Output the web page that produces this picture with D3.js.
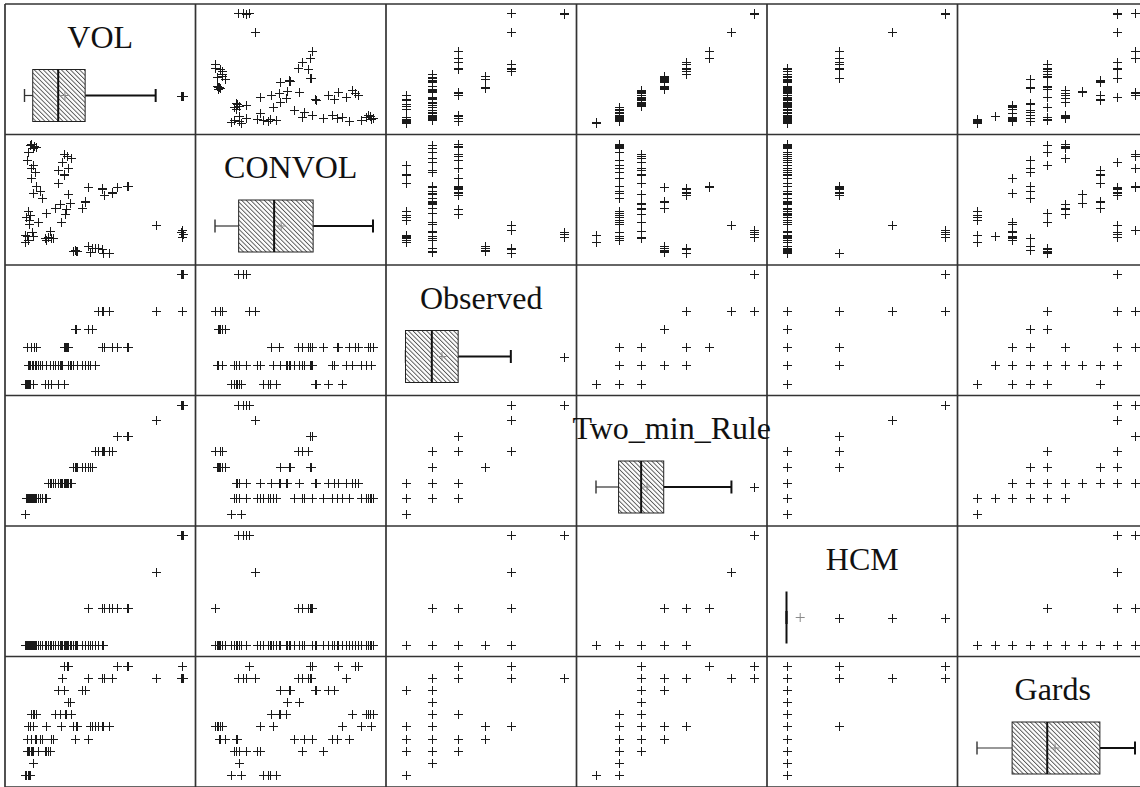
<!DOCTYPE html>
<html>
<head>
<meta charset="utf-8">
<script src="https://cdn.jsdelivr.net/npm/d3@7"></script>
<style>
  html, body { margin: 0; padding: 0; background: #fff; }
  svg { display: block; }
</style>
</head>
<body>
<svg id="chart" width="1140" height="787"></svg>
<script>
// Variable names, in matrix order
const names = ["VOL", "CONVOL", "Observed", "Two_min_Rule", "HCM", "Gards"];

// One value per observation for each variable
const VOL = [830, 833, 828, 830, 700, 367, 434, 442, 484, 509, 559, 80, 95, 105, 75, 65, 90, 64, 92, 84,
  104, 83, 106, 91, 125, 137, 247, 259, 280, 234, 267, 217, 246, 216, 266, 350, 337, 275, 258, 250,
  233, 200, 225, 159, 117, 67, 59, 76, 70, 74, 85, 50, 63, 93, 54, 150, 167, 180, 175, 158,
  192, 300, 301, 303, 364, 384, 400, 375, 415, 433, 441, 470, 309, 290, 50, 59, 63, 67, 150, 70,
  167, 54, 76, 217, 234, 247, 59, 167, 352, 486, 436, 365, 561, 348, 248, 214];
const CONVOL = [200, 225, 240, 255, 285, 565, 555, 505, 525, 564, 575, 880, 865, 855, 870, 820, 845, 758, 725, 700,
  675, 630, 574, 524, 535, 485, 805, 790, 775, 745, 702, 685, 655, 590, 510, 458, 410, 445, 405, 365,
  310, 411, 440, 375, 311, 390, 350, 360, 325, 295, 241, 218, 205, 206, 165, 193, 204, 194, 242, 180,
  193, 110, 105, 100, 133, 120, 121, 95, 119, 111, 85, 86, 96, 101, 218, 350, 205, 180, 193, 325,
  204, 165, 360, 685, 745, 805, 350, 204, 455, 523, 553, 567, 573, 460, 652, 592];
const Observed = [6, 6, 6, 4, 4, 1, 2, 2, 2, 2, 2, 2, 2, 2, 1, 1, 1, 2, 0, 2,
  1, 2, 1, 1, 1, 1, 2, 2, 1, 1, 2, 1, 0, 0, 1, 1, 1, 1, 2, 2,
  1, 1, 1, 1, 1, 0, 0, 0, 0, 1, 1, 0, 0, 1, 0, 0, 0, 0, 1, 1,
  1, 3, 3, 3, 3, 3, 1, 1, 4, 4, 4, 4, 1, 1, 0, 0, 0, 0, 0, 0,
  0, 0, 0, 1, 1, 2, 0, 0, 1, 2, 2, 1, 2, 1, 0, 0];
const Two_min_Rule = [7, 7, 7, 7, 6, 3, 4, 4, 4, 5, 5, 1, 1, 1, 1, 1, 1, 1, 1, 1,
  1, 1, 1, 1, 1, 1, 2, 2, 2, 2, 2, 2, 2, 2, 2, 3, 3, 2, 2, 2,
  2, 2, 2, 1, 1, 1, 1, 1, 1, 1, 1, 0, 1, 1, 0, 1, 2, 2, 2, 1,
  2, 3, 3, 3, 3, 3, 4, 3, 4, 4, 4, 4, 3, 3, 0, 1, 1, 1, 1, 1,
  2, 0, 1, 2, 2, 2, 1, 2, 3, 4, 4, 3, 5, 3, 2, 2];
const HCM = [3, 3, 3, 3, 2, 1, 1, 1, 1, 1, 1, 0, 0, 0, 0, 0, 0, 0, 0, 0,
  0, 0, 0, 0, 0, 0, 0, 0, 0, 0, 0, 0, 0, 0, 0, 0, 0, 0, 0, 0,
  0, 0, 0, 0, 0, 0, 0, 0, 0, 0, 0, 0, 0, 0, 0, 0, 0, 0, 0, 0,
  0, 0, 0, 0, 0, 0, 0, 0, 0, 0, 0, 1, 0, 0, 0, 0, 0, 0, 0, 0,
  0, 0, 0, 0, 0, 0, 0, 0, 0, 1, 1, 1, 1, 0, 0, 0];
const Gards = [8, 8, 8, 9, 8, 8, 8, 8, 8, 9, 9, 5, 5, 5, 4, 4, 5, 3, 4, 3,
  3, 2, 3, 2, 3, 3, 9, 9, 5, 8, 9, 7, 7, 7, 6, 7, 7, 6, 5, 5,
  4, 5, 5, 4, 2, 0, 0, 0, 0, 2, 2, 0, 2, 1, 0, 2, 2, 3, 2, 2,
  3, 3, 3, 4, 3, 4, 4, 4, 4, 4, 4, 4, 4, 4, 0, 0, 2, 2, 2, 0,
  2, 0, 0, 7, 8, 9, 0, 2, 7, 8, 8, 8, 9, 7, 7, 7];

const columns = [VOL, CONVOL, Observed, Two_min_Rule, HCM, Gards];
const n = names.length;

// Matrix geometry
const x0 = 5, y0 = 4, cellW = 190.5, cellH = 130.5;
const padL = 19.5, padR = 13, padT = 9, padB = 12;

const svg = d3.select("#chart");

// Diagonal hatch fill for the boxes
const defs = svg.append("defs");
const pat = defs.append("pattern")
  .attr("id", "hatch")
  .attr("patternUnits", "userSpaceOnUse")
  .attr("width", 3.2).attr("height", 3.2)
  .attr("patternTransform", "rotate(-45)");
pat.append("rect").attr("width", 3.2).attr("height", 3.2).attr("fill", "#fff");
pat.append("line")
  .attr("x1", 0.5).attr("y1", 0).attr("x2", 0.5).attr("y2", 3.2)
  .attr("stroke", "#3a3a3a").attr("stroke-width", 0.8);

const xScales = columns.map((vals, i) => d3.scaleLinear()
  .domain(d3.extent(vals))
  .range([x0 + i * cellW + padL, x0 + (i + 1) * cellW - padR]));
const yScales = columns.map((vals, i) => d3.scaleLinear()
  .domain(d3.extent(vals))
  .range([y0 + (i + 1) * cellH - padB, y0 + i * cellH + padT]));

function plus(x, y, h) {
  return `M${x - h},${y}H${x + h}M${x},${y - h}V${y + h}`;
}

// Off-diagonal scatter panels
const scatter = svg.append("g").attr("class", "scatter");
for (let r = 0; r < n; r++) {
  for (let c = 0; c < n; c++) {
    if (r === c) continue;
    const xs = xScales[c], ys = yScales[r];
    const xv = columns[c], yv = columns[r];
    scatter.append("g")
      .selectAll("path")
      .data(d3.range(xv.length))
      .join("path")
      .attr("d", i => plus(Math.round(xs(xv[i])) + 0.5, Math.round(ys(yv[i])) + 0.5, 4.5))
      .attr("fill", "none")
      .attr("stroke", "#1a1a1a")
      .attr("stroke-width", 1);
  }
}

// Box plot statistics
function boxStats(vals) {
  const s = vals.slice().sort(d3.ascending);
  const q1 = d3.quantileSorted(s, 0.25);
  const med = d3.quantileSorted(s, 0.5);
  const q3 = d3.quantileSorted(s, 0.75);
  const iqr = q3 - q1;
  const lo = d3.min(s.filter(v => v >= q1 - 1.5 * iqr));
  const hi = d3.max(s.filter(v => v <= q3 + 1.5 * iqr));
  const out = Array.from(new Set(s.filter(v => v < lo || v > hi)));
  return { q1, med, q3, lo, hi, out, mean: d3.mean(s) };
}

// Diagonal panels: variable name plus box plot
const diag = svg.append("g").attr("class", "diag");
for (let i = 0; i < n; i++) {
  const xs = xScales[i];
  const top = y0 + i * cellH;
  const bTop = top + 65.5, bBot = top + 117.5, mid = top + 91.5;
  const st = boxStats(columns[i]);
  const g = diag.append("g");

  // whiskers
  g.append("line").attr("x1", xs(st.lo)).attr("x2", xs(st.q1)).attr("y1", mid).attr("y2", mid)
    .attr("stroke", "#333").attr("stroke-width", 1.2);
  g.append("line").attr("x1", xs(st.q3)).attr("x2", xs(st.hi)).attr("y1", mid).attr("y2", mid)
    .attr("stroke", "#111").attr("stroke-width", 2);
  g.append("line").attr("x1", xs(st.lo)).attr("x2", xs(st.lo)).attr("y1", mid - 6.5).attr("y2", mid + 6.5)
    .attr("stroke", "#333").attr("stroke-width", 1.4);
  g.append("line").attr("x1", xs(st.hi)).attr("x2", xs(st.hi)).attr("y1", mid - 6.5).attr("y2", mid + 6.5)
    .attr("stroke", "#111").attr("stroke-width", 2);

  // box
  g.append("rect")
    .attr("x", xs(st.q1)).attr("y", bTop)
    .attr("width", Math.max(0, xs(st.q3) - xs(st.q1))).attr("height", bBot - bTop)
    .attr("fill", "url(#hatch)").attr("stroke", "#222").attr("stroke-width", 1);
  g.append("line").attr("x1", xs(st.med)).attr("x2", xs(st.med)).attr("y1", bTop).attr("y2", bBot)
    .attr("stroke", "#111").attr("stroke-width", 2);

  // outliers
  g.selectAll("path.out").data(st.out).join("path").attr("class", "out")
    .attr("d", v => plus(Math.round(xs(v)) + 0.5, Math.round(mid) + 0.5, 4.5))
    .attr("fill", "none").attr("stroke", "#1a1a1a").attr("stroke-width", 1);

  // mean
  g.append("path")
    .attr("d", plus(xs(st.mean), mid, 4.5))
    .attr("fill", "none").attr("stroke", "#8a8a8a").attr("stroke-width", 1);
}

// Cell grid
const grid = svg.append("g").attr("class", "grid");
for (let k = 0; k <= n; k++) {
  grid.append("line")
    .attr("x1", x0 + k * cellW).attr("x2", x0 + k * cellW)
    .attr("y1", y0).attr("y2", y0 + n * cellH)
    .attr("stroke", "#333").attr("stroke-width", 1.7);
  grid.append("line")
    .attr("x1", x0).attr("x2", x0 + n * cellW)
    .attr("y1", y0 + k * cellH).attr("y2", y0 + k * cellH)
    .attr("stroke", "#333").attr("stroke-width", 1.7);
}

// Variable labels
svg.append("g").attr("class", "labels")
  .selectAll("text").data(names).join("text")
  .attr("x", (d, i) => x0 + (i + 0.5) * cellW)
  .attr("y", (d, i) => y0 + i * cellH + 43.5)
  .attr("text-anchor", "middle")
  .attr("font-family", "'Liberation Serif', 'Times New Roman', serif")
  .attr("font-size", 32)
  .attr("fill", "#111")
  .text(d => d);
</script>
</body>
</html>
